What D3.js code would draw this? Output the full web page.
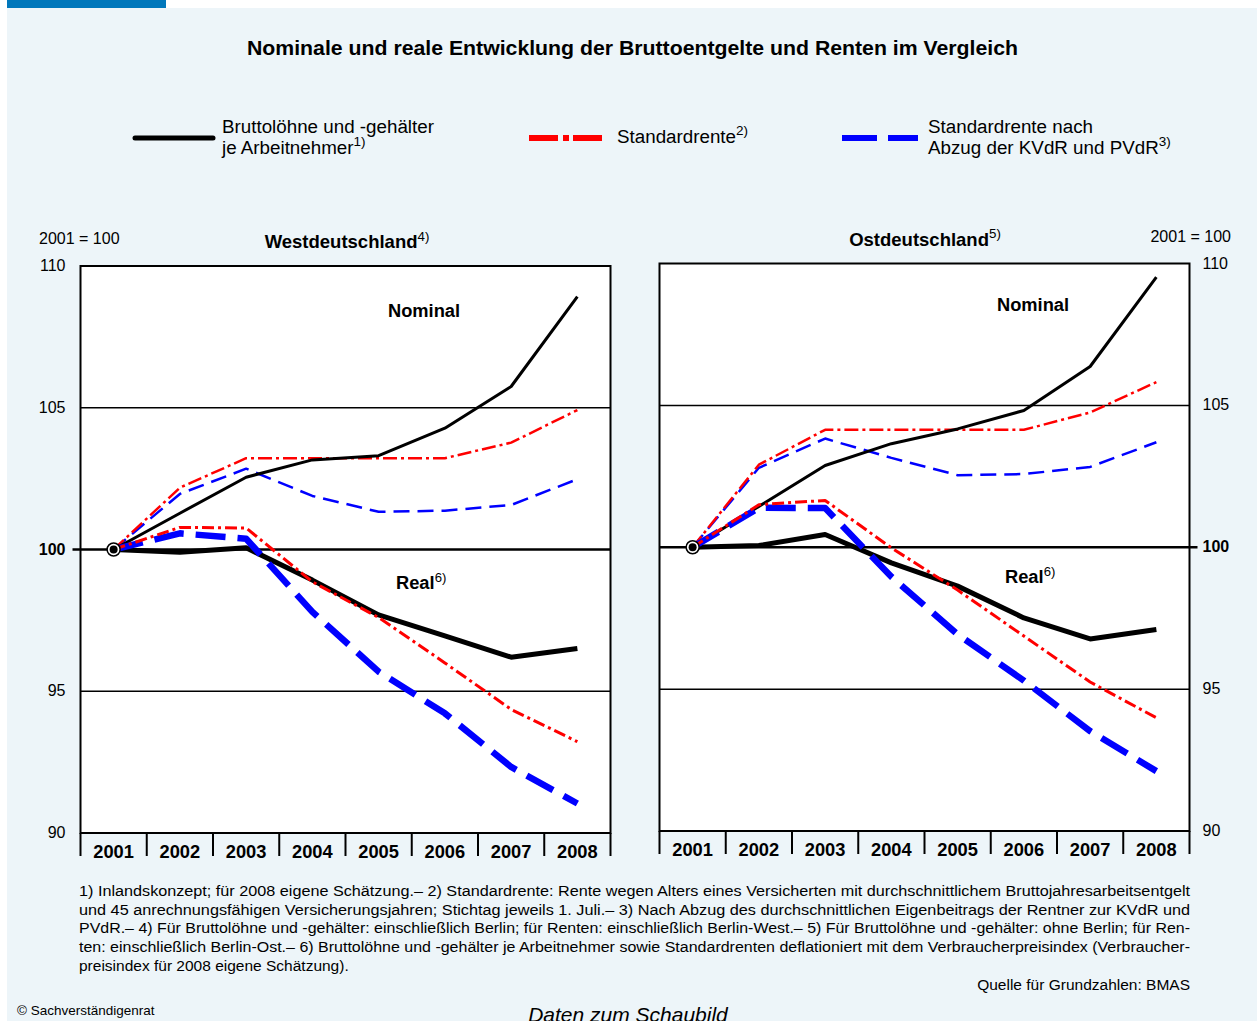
<!DOCTYPE html>
<html>
<head>
<meta charset="utf-8">
<script src="https://cdn.jsdelivr.net/npm/d3@7"></script>
<style>
  body { margin: 0; background: #fff; }
  svg { display: block; font-family: "Liberation Sans", Arial, sans-serif; }
</style>
</head>
<body>
<div id="chart"></div>
<script>
// data, index 2001 = 100
var years = ["2001", "2002", "2003", "2004", "2005", "2006", "2007", "2008"];

var westNomLohn   = [100, 101.28, 102.55, 103.16, 103.31, 104.28, 105.75, 108.92];
var westNomRente  = [100, 102.18, 103.22, 103.22, 103.22, 103.22, 103.77, 104.92];
var westNomNetto  = [100, 101.96, 102.85, 101.89, 101.33, 101.37, 101.57, 102.48];
var westRealLohn  = [100, 99.90, 100.06, 98.92, 97.69, 96.95, 96.20, 96.51];
var westRealRente = [100, 100.78, 100.76, 98.86, 97.60, 96.00, 94.36, 93.22];
var westRealNetto = [100, 100.57, 100.38, 97.80, 95.69, 94.22, 92.33, 91.04];

var eastNomLohn   = [100, 101.44, 102.88, 103.65, 104.17, 104.82, 106.37, 109.52];
var eastNomRente  = [100, 102.91, 104.14, 104.14, 104.14, 104.14, 104.75, 105.82];
var eastNomNetto  = [100, 102.80, 103.83, 103.15, 102.54, 102.58, 102.83, 103.70];
var eastRealLohn  = [100, 100.06, 100.45, 99.45, 98.63, 97.51, 96.77, 97.10];
var eastRealRente = [100, 101.50, 101.65, 99.98, 98.49, 96.87, 95.25, 93.99];
var eastRealNetto = [100, 101.39, 101.38, 98.96, 96.93, 95.30, 93.52, 92.11];

var yTicks = [90, 95, 100, 105, 110];

var footnotes = [
  "1) Inlandskonzept; für 2008 eigene Schätzung.– 2) Standardrente: Rente wegen Alters eines Versicherten mit durchschnittlichem Bruttojahresarbeitsentgelt",
  "und 45 anrechnungsfähigen Versicherungsjahren; Stichtag jeweils 1. Juli.– 3) Nach Abzug des durchschnittlichen Eigenbeitrags der Rentner zur KVdR und",
  "PVdR.– 4) Für Bruttolöhne und -gehälter: einschließlich Berlin; für Renten: einschließlich Berlin-West.– 5) Für Bruttolöhne und -gehälter: ohne Berlin; für Ren-",
  "ten: einschließlich Berlin-Ost.– 6) Bruttolöhne und -gehälter je Arbeitnehmer sowie Standardrenten deflationiert mit dem Verbraucherpreisindex (Verbraucher-",
  "preisindex für 2008 eigene Schätzung)."
];

var width = 1257, height = 1021;

var svg = d3.select("#chart").append("svg")
    .attr("width", width)
    .attr("height", height);

// background + blue tab
svg.append("rect").attr("x", 7).attr("y", 8).attr("width", width - 7).attr("height", height - 8)
    .attr("fill", "#edf5f9");
svg.append("rect").attr("x", 7).attr("y", 0).attr("width", 159).attr("height", 8)
    .attr("fill", "#0077bb");

// title
svg.append("text")
    .attr("x", 247).attr("y", 55)
    .attr("font-size", 20).attr("font-weight", "bold")
    .attr("textLength", 771).attr("lengthAdjust", "spacingAndGlyphs")
    .text("Nominale und reale Entwicklung der Bruttoentgelte und Renten im Vergleich");

// helper: text with superscript
function supText(sel, x, y, main, sup, opts) {
    var t = sel.append("text").attr("x", x).attr("y", y)
        .attr("font-size", opts.size)
        .attr("font-weight", opts.bold ? "bold" : "normal")
        .attr("text-anchor", opts.anchor || "start");
    t.append("tspan").text(main);
    t.append("tspan").attr("dy", -opts.size * 0.4).attr("font-size", opts.size * 0.72)
        .attr("font-weight", "normal").text(sup);
    return t;
}

// legend
var legend = svg.append("g");
legend.append("line").attr("x1", 135).attr("x2", 213).attr("y1", 138).attr("y2", 138)
    .attr("stroke", "#000").attr("stroke-width", 5).attr("stroke-linecap", "round");
legend.append("text").attr("x", 222).attr("y", 133).attr("font-size", 18.8).text("Bruttolöhne und -gehälter");
supText(legend, 222, 154, "je Arbeitnehmer", "1)", {size: 18.8});

legend.append("line").attr("x1", 529).attr("x2", 603).attr("y1", 138).attr("y2", 138)
    .attr("stroke", "#ff0000").attr("stroke-width", 6).attr("stroke-dasharray", "29,5,6,4,29");
supText(legend, 617, 143, "Standardrente", "2)", {size: 18.8});

legend.append("line").attr("x1", 842).attr("x2", 918).attr("y1", 138).attr("y2", 138)
    .attr("stroke", "#0000ff").attr("stroke-width", 6).attr("stroke-dasharray", "35,11");
legend.append("text").attr("x", 928).attr("y", 133).attr("font-size", 18.8).text("Standardrente nach");
supText(legend, 928, 154, "Abzug der KVdR und PVdR", "3)", {size: 18.8});

// line styles
var styles = {
    nomLohn:   {color: "#000",    w: 3,   dash: null},
    nomRente:  {color: "#ff0000", w: 2.5, dash: "14,4,3,4"},
    nomNetto:  {color: "#0000ff", w: 2.5, dash: "16,8"},
    realLohn:  {color: "#000",    w: 5,   dash: null},
    realRente: {color: "#ff0000", w: 3,   dash: "12,4,3,4"},
    realNetto: {color: "#0000ff", w: 6.5, dash: "30,12"}
};

function drawPanel(cfg) {
    var g = svg.append("g");
    var x = d3.scaleBand().domain(years).range([cfg.left, cfg.right]).padding(0);
    var y = d3.scaleLinear().domain([90, 110]).range([cfg.bottom, cfg.top]);
    var cx = function(d, i) { return x(years[i]) + x.bandwidth() / 2; };

    g.append("rect")
        .attr("x", cfg.left).attr("y", cfg.top)
        .attr("width", cfg.right - cfg.left).attr("height", cfg.bottom - cfg.top)
        .attr("fill", "#fff");

    // grid lines
    [95, 105].forEach(function(v) {
        g.append("line").attr("x1", cfg.left).attr("x2", cfg.right)
            .attr("y1", y(v)).attr("y2", y(v))
            .attr("stroke", "#000").attr("stroke-width", 1.5);
    });
    var ext = cfg.side == "left" ? [cfg.left - 8, cfg.right] : [cfg.left, cfg.right + 8];
    g.append("line").attr("x1", ext[0]).attr("x2", ext[1])
        .attr("y1", y(100)).attr("y2", y(100))
        .attr("stroke", "#000").attr("stroke-width", 2.5);

    // y labels
    var lx = cfg.side == "left" ? cfg.left - 15 : cfg.right + 13;
    g.selectAll("text.ytick").data(yTicks).enter().append("text")
        .attr("class", "ytick")
        .attr("x", lx).attr("y", function(d) { return y(d) + 5; })
        .attr("text-anchor", cfg.side == "left" ? "end" : "start")
        .attr("font-size", 16)
        .attr("font-weight", function(d) { return d == 100 ? "bold" : "normal"; })
        .text(function(d) { return d; });

    // series
    var line = d3.line().x(cx).y(function(d) { return y(d); });
    cfg.series.forEach(function(s) {
        var st = styles[s.key];
        g.append("path").datum(s.values)
            .attr("d", line)
            .attr("fill", "none")
            .attr("stroke", st.color)
            .attr("stroke-width", st.w)
            .attr("stroke-linejoin", "round")
            .attr("stroke-dasharray", st.dash);
    });

    // base point
    g.append("circle").attr("cx", cx(null, 0)).attr("cy", y(100)).attr("r", 6.5)
        .attr("fill", "#fff").attr("stroke", "#000").attr("stroke-width", 1.5);
    g.append("circle").attr("cx", cx(null, 0)).attr("cy", y(100)).attr("r", 4)
        .attr("fill", "#000");

    // frame
    g.append("rect")
        .attr("x", cfg.left).attr("y", cfg.top)
        .attr("width", cfg.right - cfg.left).attr("height", cfg.bottom - cfg.top)
        .attr("fill", "none").attr("stroke", "#000").attr("stroke-width", 2);

    // year separators + labels
    var seps = years.map(function(d) { return x(d); }).concat([cfg.right]);
    g.selectAll("line.sep").data(seps).enter().append("line")
        .attr("class", "sep")
        .attr("x1", function(d) { return d; }).attr("x2", function(d) { return d; })
        .attr("y1", cfg.bottom).attr("y2", cfg.bottom + 23)
        .attr("stroke", "#000").attr("stroke-width", 2);
    g.selectAll("text.year").data(years).enter().append("text")
        .attr("class", "year")
        .attr("x", function(d) { return x(d) + x.bandwidth() / 2; })
        .attr("y", cfg.bottom + 25)
        .attr("text-anchor", "middle")
        .attr("font-size", 18.3).attr("font-weight", "bold")
        .text(function(d) { return d; });

    // titles and labels
    supText(g, cfg.titleX, cfg.top - 18, cfg.title, cfg.titleSup, {size: 18.5, bold: true, anchor: "middle"});
    g.append("text")
        .attr("x", cfg.side == "left" ? 39 : 1231).attr("y", cfg.top - 22)
        .attr("text-anchor", cfg.side == "left" ? "start" : "end")
        .attr("font-size", 16).text("2001 = 100");
    g.append("text").attr("x", cfg.nomX).attr("y", cfg.nomY)
        .attr("font-size", 18.3).attr("font-weight", "bold").text("Nominal");
    supText(g, cfg.realX, cfg.realY, "Real", "6)", {size: 18.3, bold: true});
}

drawPanel({
    side: "left", left: 80.5, right: 610.5, top: 266, bottom: 833,
    title: "Westdeutschland", titleSup: "4)", titleX: 347,
    nomX: 388, nomY: 317, realX: 396, realY: 589,
    series: [
        {key: "nomNetto", values: westNomNetto},
        {key: "nomRente", values: westNomRente},
        {key: "nomLohn", values: westNomLohn},
        {key: "realLohn", values: westRealLohn},
        {key: "realNetto", values: westRealNetto},
        {key: "realRente", values: westRealRente}
    ]
});

drawPanel({
    side: "right", left: 659.5, right: 1189.5, top: 263.5, bottom: 831,
    title: "Ostdeutschland", titleSup: "5)", titleX: 925,
    nomX: 997, nomY: 311, realX: 1005, realY: 583,
    series: [
        {key: "nomNetto", values: eastNomNetto},
        {key: "nomRente", values: eastNomRente},
        {key: "nomLohn", values: eastNomLohn},
        {key: "realLohn", values: eastRealLohn},
        {key: "realNetto", values: eastRealNetto},
        {key: "realRente", values: eastRealRente}
    ]
});

// footnotes
var fn = svg.append("g").attr("font-size", 15.5);
footnotes.forEach(function(t, i) {
    var el = fn.append("text").attr("x", 79).attr("y", 896 + i * 18.7).text(t);
    if (i < footnotes.length - 1) {
        el.attr("textLength", 1111).attr("lengthAdjust", "spacingAndGlyphs");
    }
});
fn.append("text").attr("x", 1190).attr("y", 990).attr("text-anchor", "end")
    .text("Quelle für Grundzahlen: BMAS");

svg.append("text").attr("x", 17).attr("y", 1015).attr("font-size", 13.5)
    .text("© Sachverständigenrat");
svg.append("text").attr("x", 628).attr("y", 1022).attr("text-anchor", "middle")
    .attr("font-size", 21).attr("font-style", "italic")
    .text("Daten zum Schaubild");
</script>
</body>
</html>
